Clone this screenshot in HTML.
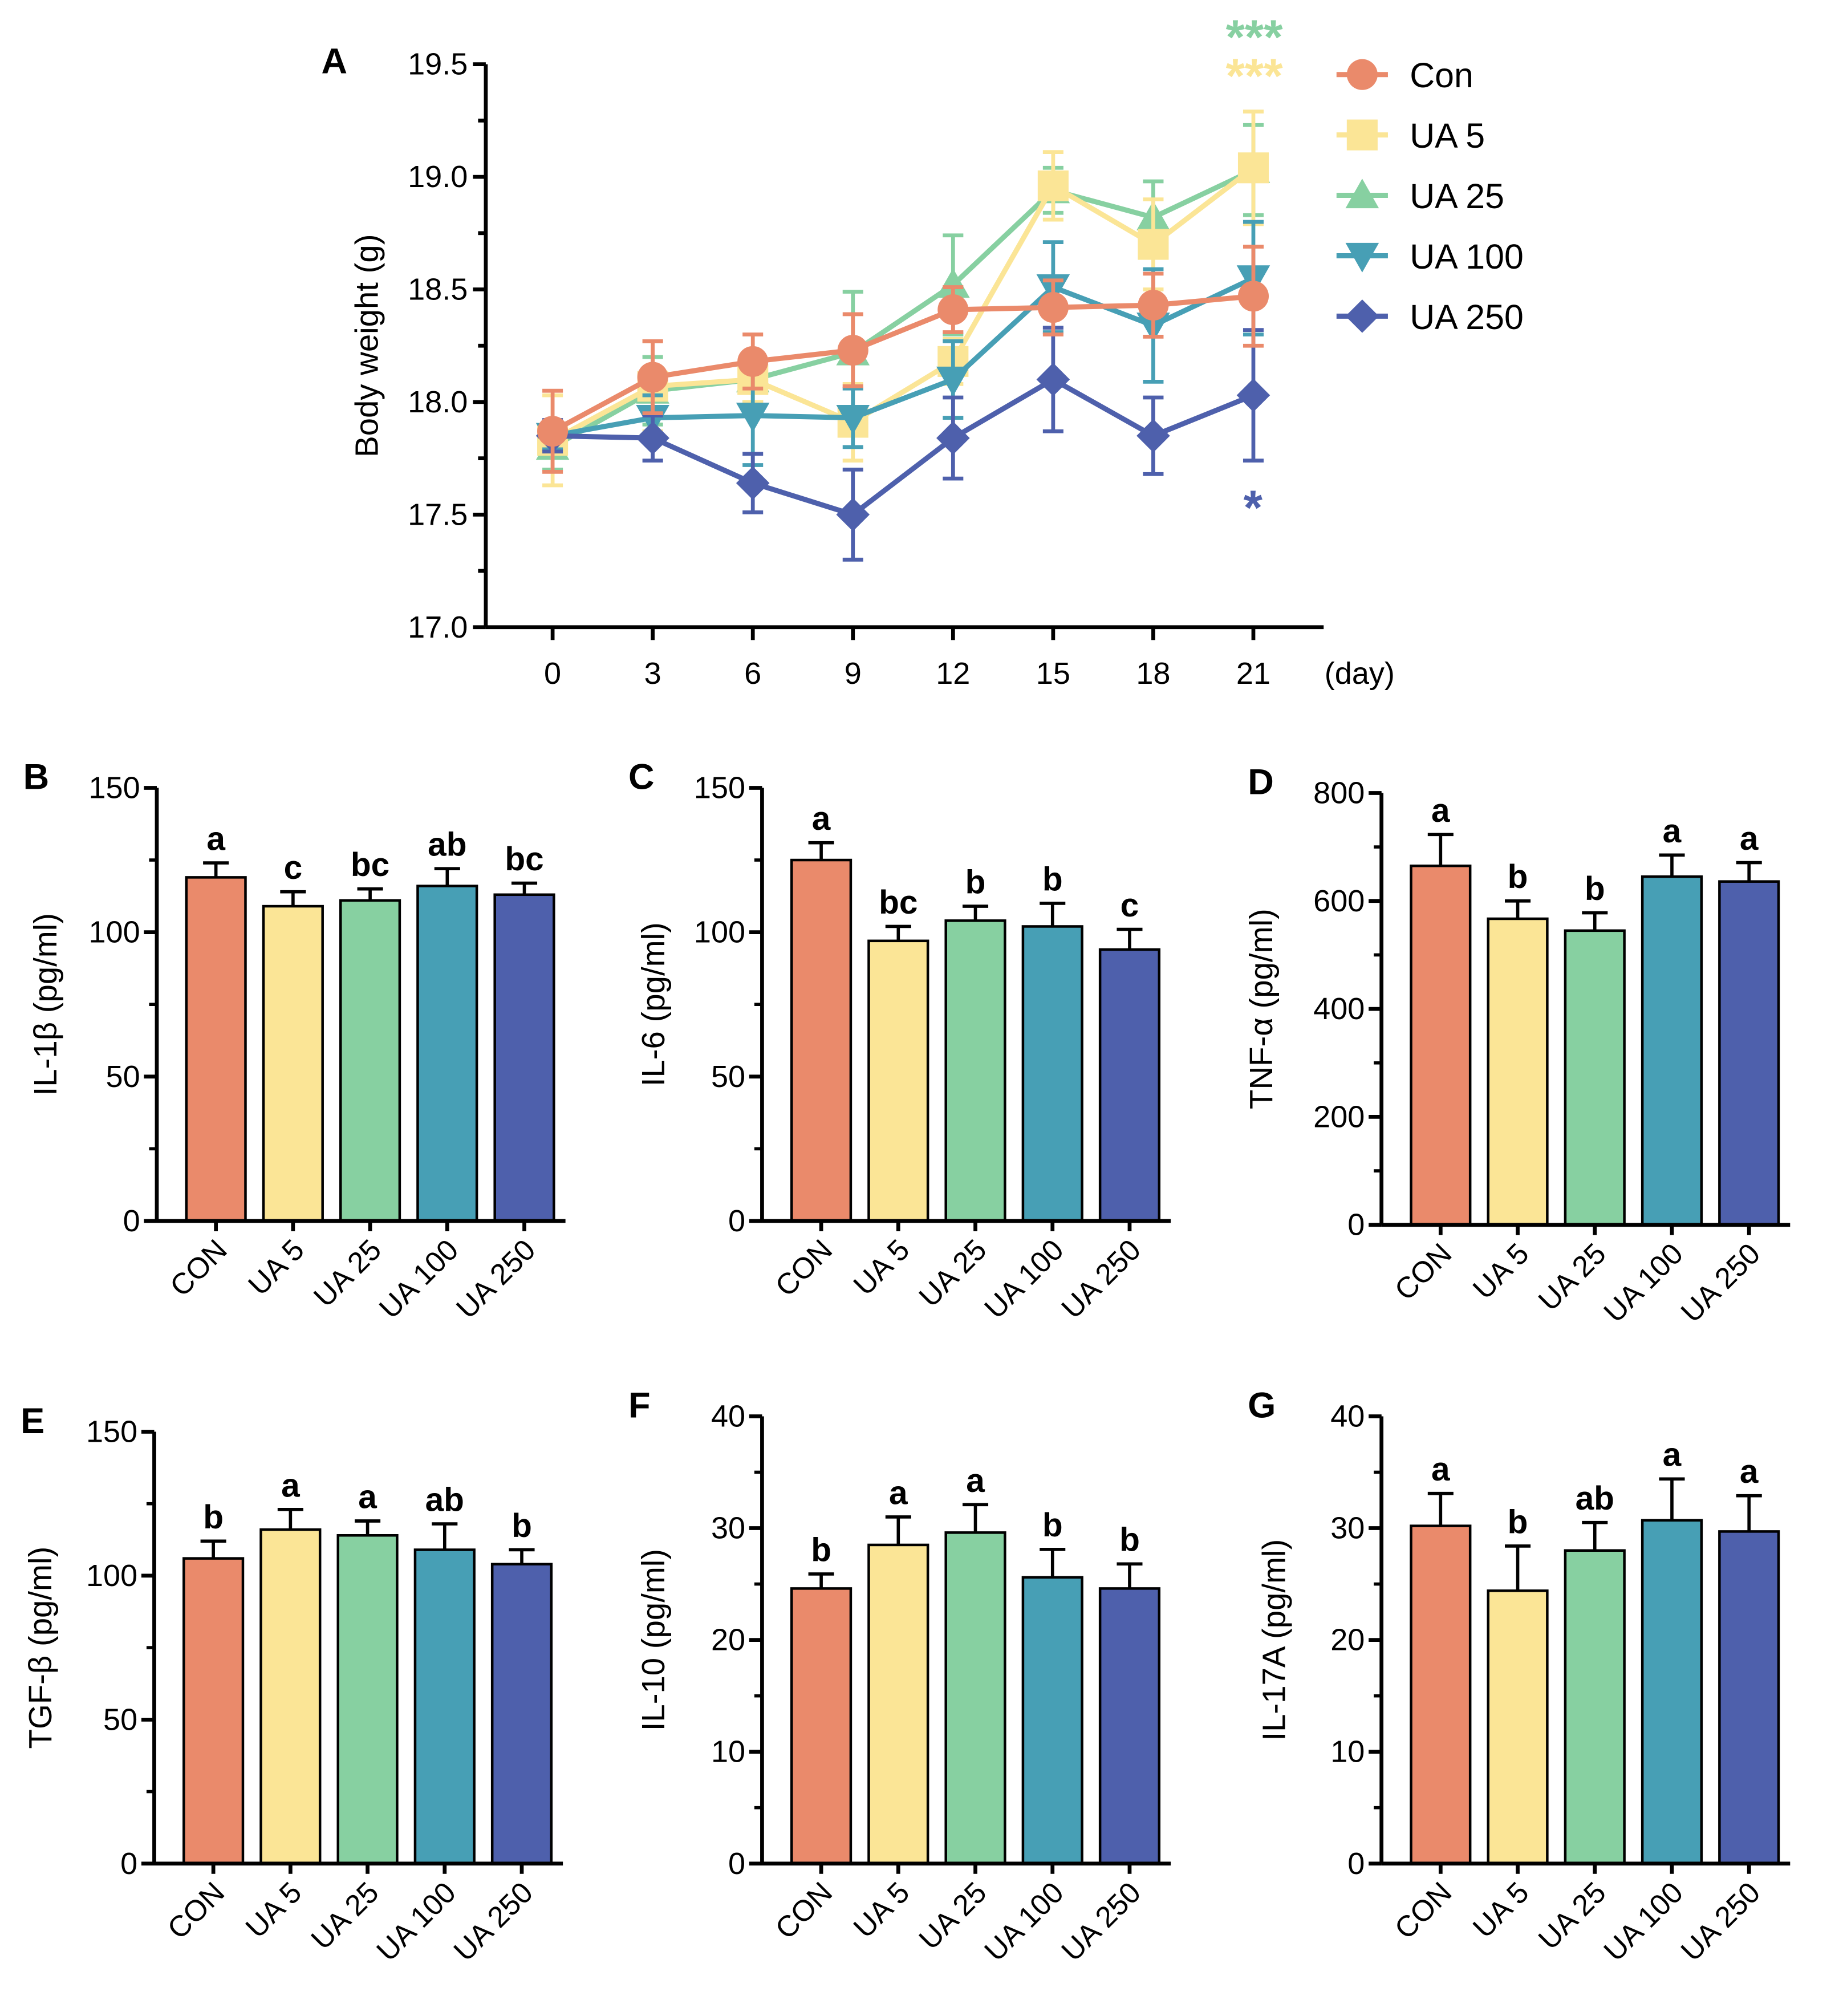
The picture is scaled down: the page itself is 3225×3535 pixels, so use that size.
<!DOCTYPE html>
<html><head><meta charset="utf-8"><style>
html,body{margin:0;padding:0;background:#fff}
svg{display:block;font-family:"Liberation Sans",Arial,sans-serif}
</style></head><body>
<svg id="fig" xmlns="http://www.w3.org/2000/svg" width="3225" height="3535" viewBox="0 0 1431 1568.6"></svg>
<script>
const NS="http://www.w3.org/2000/svg";
const svg=document.getElementById('fig');
// ---- Panel A data ----
const days=[0,3,6,9,12,15,18,21];
const seriesNames=["Con","UA 5","UA 25","UA 100","UA 250"];
const conVals=[17.87,18.11,18.18,18.23,18.41,18.42,18.43,18.47];
const conErr=[0.18,0.16,0.12,0.16,0.10,0.12,0.14,0.22];
const ua5Vals=[17.83,18.07,18.10,17.91,18.18,18.96,18.70,19.04];
const ua5Err=[0.20,0.20,0.10,0.17,0.10,0.15,0.20,0.25];
const ua25Vals=[17.80,18.05,18.10,18.22,18.52,18.94,18.82,19.03];
const ua25Err=[0.10,0.15,0.10,0.27,0.22,0.10,0.16,0.20];
const ua100Vals=[17.85,17.93,17.94,17.93,18.10,18.51,18.34,18.55];
const ua100Err=[0.06,0.10,0.22,0.13,0.17,0.20,0.25,0.25];
const ua250Vals=[17.85,17.84,17.64,17.50,17.84,18.10,17.85,18.03];
const ua250Err=[0.07,0.10,0.13,0.20,0.18,0.23,0.17,0.29];
const yTicksA=[17.0,17.5,18.0,18.5,19.0,19.5];
// ---- Bar panel data ----
const groups=["CON","UA 5","UA 25","UA 100","UA 250"];
const il1bVals=[119,109,111,116,113], il1bErr=[5,5,4,6,4], il1bLet=["a","c","bc","ab","bc"];
const il6Vals=[125,97,104,102,94], il6Err=[6,5,5,8,7], il6Let=["a","bc","b","b","c"];
const tnfVals=[665,567,545,645,636], tnfErr=[58,33,33,40,35], tnfLet=["a","b","b","a","a"];
const tgfVals=[106,116,114,109,104], tgfErr=[6,7,5,9,5], tgfLet=["b","a","a","ab","b"];
const il10Vals=[24.6,28.5,29.6,25.6,24.6], il10Err=[1.3,2.5,2.5,2.5,2.2], il10Let=["b","a","a","b","b"];
const il17Vals=[30.2,24.4,28.0,30.7,29.7], il17Err=[2.9,4.0,2.5,3.7,3.2], il17Let=["a","b","ab","a","a"];
const ticks150=[0,50,100,150], ticks800=[0,200,400,600,800], ticks40=[0,10,20,30,40];

const colors=["#EA8A6B","#FBE596","#87D0A1","#479FB5","#4E60AC"];

function el(tag,attrs,parent){const e=document.createElementNS(NS,tag);for(const k in attrs)e.setAttribute(k,attrs[k]);(parent||svg).appendChild(e);return e;}
function txt(s,attrs,parent){const e=el('text',attrs,parent);e.textContent=s;return e;}

// ===== Panel A =====
const gA=el('g',{});


const ax0=378, ay0=488, ayTop=50, ymin=17, ymax=19.5;
const yA=v=>ay0-(v-ymin)/(ymax-ymin)*(ay0-ayTop);
const xA=d=>430+d/3*77.9;
el('line',{x1:ax0,y1:ayTop,x2:ax0,y2:ay0,stroke:'#000','stroke-width':3},gA);
el('line',{x1:ax0,y1:ay0,x2:1030,y2:ay0,stroke:'#000','stroke-width':3},gA);
yTicksA.forEach(t=>{el('line',{x1:ax0-10,y1:yA(t),x2:ax0,y2:yA(t),stroke:'#000','stroke-width':3},gA);
 const l=txt(t.toFixed(1),{x:ax0-14,y:yA(t)+8,'text-anchor':'end','font-size':24},gA);
 });
for(let i=0;i<yTicksA.length-1;i++){const m=(yTicksA[i]+yTicksA[i+1])/2;el('line',{x1:ax0-6,y1:yA(m),x2:ax0,y2:yA(m),stroke:'#000','stroke-width':3},gA);}
days.forEach(d=>{el('line',{x1:xA(d),y1:ay0,x2:xA(d),y2:ay0+10,stroke:'#000','stroke-width':3},gA);
 const l=txt(String(d),{x:xA(d),y:ay0+44,'text-anchor':'middle','font-size':24},gA);
 });
let t=txt('(day)',{x:1058,y:ay0+44,'text-anchor':'middle','font-size':24},gA);

t=txt('Body weight (g)',{x:294,y:269,'text-anchor':'middle','font-size':25,transform:'rotate(-90 294 269)'},gA);

t=txt('A',{x:250,y:57,'font-size':28,'font-weight':'bold'},gA);


function marker(type,cx,cy,c,parent){
 if(type==0) return el('circle',{cx,cy,r:12,fill:c},parent);
 if(type==1) return el('rect',{x:cx-12,y:cy-12,width:24,height:24,fill:c},parent);
 if(type==2) return el('polygon',{points:`${cx},${cy-13} ${cx+13},${cy+10} ${cx-13},${cy+10}`,fill:c},parent);
 if(type==3) return el('polygon',{points:`${cx-13},${cy-10} ${cx+13},${cy-10} ${cx},${cy+13}`,fill:c},parent);
 return el('polygon',{points:`${cx},${cy-13} ${cx+13},${cy} ${cx},${cy+13} ${cx-13},${cy}`,fill:c},parent);
}
const allVals=[conVals,ua5Vals,ua25Vals,ua100Vals,ua250Vals];
const allErr=[conErr,ua5Err,ua25Err,ua100Err,ua250Err];
const drawOrder=[2,1,3,4,0];
drawOrder.forEach(s=>{
 const g=el('g',{},gA);
 
 
 const c=colors[s];
 days.forEach((d,i)=>{const v=allVals[s][i],e=allErr[s][i];
  const x=xA(d);
  el('line',{x1:x,y1:yA(v),x2:x,y2:yA(v+e),stroke:c,'stroke-width':3},g);
  el('line',{x1:x-8,y1:yA(v+e),x2:x+8,y2:yA(v+e),stroke:c,'stroke-width':3},g);
  el('line',{x1:x,y1:yA(v),x2:x,y2:yA(v-e),stroke:c,'stroke-width':3},g);
  el('line',{x1:x-8,y1:yA(v-e),x2:x+8,y2:yA(v-e),stroke:c,'stroke-width':3},g);
 });
 el('polyline',{points:days.map((d,i)=>xA(d)+','+yA(allVals[s][i])).join(' '),fill:'none',stroke:c,'stroke-width':4},g);
 days.forEach((d,i)=>{const m=marker(s,xA(d),yA(allVals[s][i]),c,g);
  });
});
t=txt('***',{x:976,y:42,'text-anchor':'middle','font-size':38,'font-weight':'bold',fill:colors[2]},gA);

t=txt('***',{x:976,y:72,'text-anchor':'middle','font-size':38,'font-weight':'bold',fill:colors[1]},gA);

t=txt('*',{x:975,y:408,'text-anchor':'middle','font-size':38,'font-weight':'bold',fill:colors[4]},gA);

// legend
seriesNames.forEach((n,s)=>{const y=58+s*47;const g=el('g',{},gA);
 
 el('line',{x1:1040,y1:y,x2:1080,y2:y,stroke:colors[s],'stroke-width':4},g);
 marker(s,1060,y,colors[s],g);
 txt(n,{x:1097,y:y+10,'font-size':27},g);});

// ===== Bar panels =====
function barPanel(name,letter,ax,y0,yTop,maxV,ticks,minorStep,vals,errs,lets,title,titleX){
 const g=el('g',{});
 
 
 const y=v=>y0-v/maxV*(y0-yTop);
 const cx=i=>ax+46+i*60;
 vals.forEach((v,i)=>{
  const top=y(v+errs[i]);
  el('line',{x1:cx(i),y1:y(v),x2:cx(i),y2:top,stroke:'#000','stroke-width':2.5},g);
  el('line',{x1:cx(i)-10,y1:top,x2:cx(i)+10,y2:top,stroke:'#000','stroke-width':2.5},g);
  const b=el('rect',{x:cx(i)-23,y:y(v),width:46,height:y0-y(v),fill:colors[i],stroke:'#000','stroke-width':2},g);
  
  
  const l=txt(lets[i],{x:cx(i),y:top-10,'text-anchor':'middle','font-size':26,'font-weight':'bold'},g);
  
  const xl=txt(groups[i],{x:0,y:0,'text-anchor':'end','font-size':23,transform:`translate(${cx(i)+10},${y0+24}) rotate(-45)`},g);
  
 });
 el('line',{x1:ax,y1:yTop,x2:ax,y2:y0,stroke:'#000','stroke-width':3},g);
 el('line',{x1:ax,y1:y0,x2:ax+318,y2:y0,stroke:'#000','stroke-width':3},g);
 for(let v=0;v<=maxV+1e-9;v+=minorStep) el('line',{x1:ax-6,y1:y(v),x2:ax,y2:y(v),stroke:'#000','stroke-width':2.5},g);
 ticks.forEach(tv=>{el('line',{x1:ax-10,y1:y(tv),x2:ax,y2:y(tv),stroke:'#000','stroke-width':3},g);
  const l=txt(String(tv),{x:ax-13,y:y(tv)+8,'text-anchor':'end','font-size':24},g);
  });
 for(let i=0;i<5;i++) el('line',{x1:cx(i),y1:y0,x2:cx(i),y2:y0+8,stroke:'#000','stroke-width':3},g);
 const ym=(y0+yTop)/2;
 const tt=txt(title,{x:titleX,y:ym,'text-anchor':'middle','font-size':25,transform:`rotate(-90 ${titleX} ${ym})`},g);
 
 const pl=txt(letter,{x:ax-104,y:yTop+1,'font-size':28,'font-weight':'bold'},g);
 
}
barPanel('panel-b-il1b','B',122,950,613,150,ticks150,25,il1bVals,il1bErr,il1bLet,'IL-1β (pg/ml)',44);
barPanel('panel-c-il6','C',593,950,613,150,ticks150,25,il6Vals,il6Err,il6Let,'IL-6 (pg/ml)',517);
barPanel('panel-d-tnfa','D',1075,953,617,800,ticks800,100,tnfVals,tnfErr,tnfLet,'TNF-α (pg/ml)',990);
barPanel('panel-e-tgfb','E',120,1450,1114,150,ticks150,25,tgfVals,tgfErr,tgfLet,'TGF-β (pg/ml)',40);
barPanel('panel-f-il10','F',593,1450,1102,40,ticks40,5,il10Vals,il10Err,il10Let,'IL-10 (pg/ml)',517);
barPanel('panel-g-il17a','G',1075,1450,1102,40,ticks40,5,il17Vals,il17Err,il17Let,'IL-17A (pg/ml)',1000);
</script>
</body></html>
